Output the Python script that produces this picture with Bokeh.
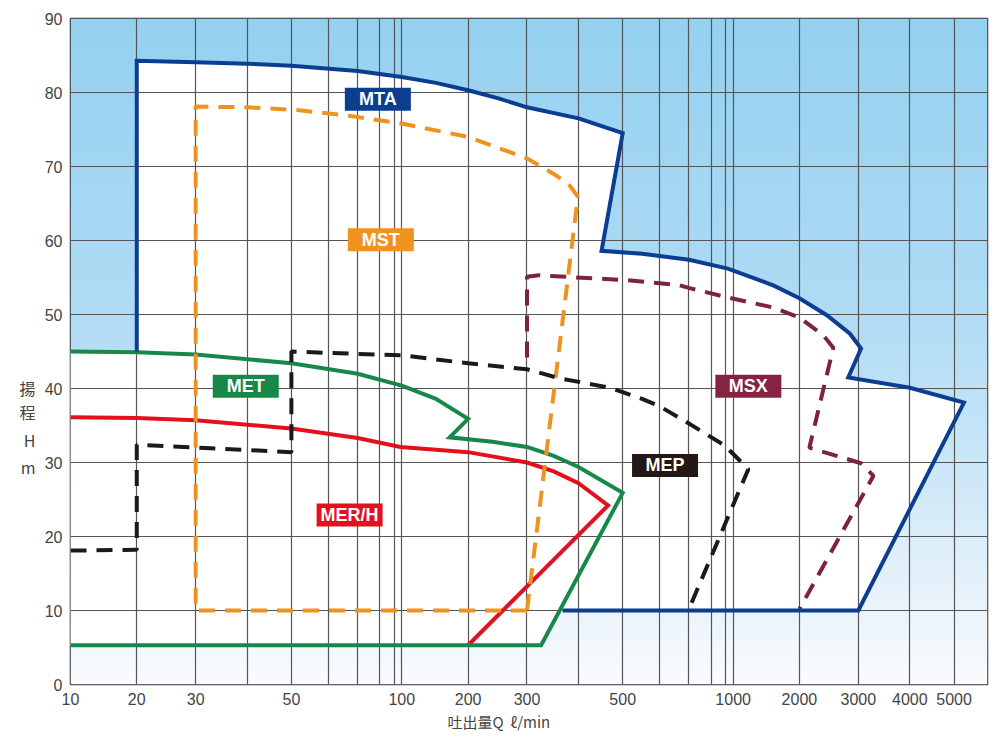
import numpy as np
from bokeh.plotting import figure
from bokeh.models import ColumnDataSource, FixedTicker, Range1d, LinearAxis, Title
from bokeh.embed import file_html
from bokeh.resources import INLINE
from bokeh.core.properties import value

# ---------------- data ----------------
x_tick_values = [10, 20, 30, 50, 100, 200, 300, 500, 1000, 2000, 3000, 4000, 5000]
x_grid_values = [10, 20, 30, 40, 50, 60, 70, 80, 90,
                 100, 200, 300, 400, 500, 600, 700, 800, 900,
                 1000, 2000, 3000, 4000, 5000]
y_tick_values = [0, 10, 20, 30, 40, 50, 60, 70, 80, 90]

mta_q = [20, 20, 30, 40, 50, 70, 100, 150, 200, 250, 300, 400, 500, 450, 550, 700, 920,
         1250, 1600, 2000, 2450, 2850, 3050, 2820, 4000, 5250, 3000, 368]
mta_h = [45.0, 84.3, 84.1, 83.9, 83.6, 82.9, 82.1, 81.3, 80.3, 79.2, 78.0, 76.5, 74.5,
         58.6, 58.2, 57.4, 56.2, 55.1, 53.9, 52.2, 49.9, 47.4, 45.4, 41.5, 40.1, 38.1,
         10.0, 10.0]

met_q = [10, 20, 30, 50, 70, 100, 150, 200, 171, 240, 300, 350, 400, 500, 326, 10]
met_h = [45.0, 44.9, 44.6, 43.4, 42.0, 40.4, 38.6, 35.9, 33.4, 32.8, 32.1, 30.9, 29.4,
         25.9, 5.3, 5.3]

mer_q = [10, 20, 30, 50, 70, 97, 200, 300, 350, 400, 465, 200]
mer_h = [36.1, 36.0, 35.7, 34.6, 33.3, 32.1, 31.4, 30.0, 28.8, 27.2, 24.2, 5.3]

mst_q = [300, 30, 30, 40, 52, 66, 100, 200, 300, 350, 380, 400, 395, 300]
mst_h = [10.0, 10.0, 78.1, 78.0, 77.6, 76.9, 75.8, 74.0, 71.1, 69.0, 67.6, 65.8, 64.0, 10.0]

mep_q = [10, 20, 20, 50, 50, 60, 100, 200, 300, 360, 470, 550, 600, 680, 890, 1220, 700]
mep_h = [18.1, 18.2, 32.4, 31.4, 45.0, 44.8, 44.5, 43.4, 42.6, 41.4, 40.1, 38.6,
         37.6, 35.7, 32.3, 29.1, 10.2]

msx_q = [300, 300, 322, 520, 660, 710, 920, 1610, 2000, 2390, 2560, 2160, 3050, 3280, 2000]
msx_h = [44.2, 55.1, 55.3, 54.6, 54.0, 53.5, 52.3, 50.9, 49.6, 47.2, 45.5, 32.0,
         29.9, 28.2, 10.2]

series_names = ["MTA", "MST", "MET", "MER/H", "MSX", "MEP"]
label_q = [79, 80.6, 39.7, 67, 1220, 617]
label_h = [79.1, 60.1, 40.3, 22.9, 40.3, 29.6]
series_colors = ["#0b3d91", "#f0921e", "#17884a", "#e3111d", "#862342", "#231815"]

y_label_chars = ["揚", "程", "H", "m"]
y_label_h = [40.1, 36.8, 33.1, 29.4]

x_label = "吐出量Q\u00a0\u00a0ℓ/min"


# The chart's flow axis: each decade is divided with a quadratic spacing
def qpos(q):
    q = np.asarray(q, dtype=float)
    e = np.floor(np.log10(q) + 1e-9)
    m = q / 10 ** e
    return np.round((e - 1) + (m - 1) * (20 - m) / 90, 6)


x_end = float(qpos(5900))

p = figure(width=992, height=732, x_range=Range1d(0, x_end), y_range=Range1d(0, 90),
           output_backend="svg", toolbar_location=None,
           min_border_left=70, min_border_right=5, min_border_top=18, min_border_bottom=40)

# background gradient
n = 300
ys = np.linspace(0, 90, n)
stops_y = [0, 12, 30, 50, 90]
stops_rgb = np.array([[250, 252, 254], [232, 243, 251], [203, 231, 248],
                      [176, 220, 245], [148, 209, 241]], dtype=float)
img = np.empty((n, 1), dtype=np.uint32)
view = img.view(dtype=np.uint8).reshape((n, 1, 4))
for c in range(3):
    view[:, 0, c] = np.interp(ys, stops_y, stops_rgb[:, c]).astype(np.uint8)
view[:, 0, 3] = 255
p.image_rgba(image=[img], x=0, y=0, dw=x_end, dh=90, level="image")

# white fills of the regions
p.patch(x=qpos(mta_q), y=mta_h, fill_color="white", line_color=None, level="image")
p.patch(x=qpos(met_q), y=met_h, fill_color="white", line_color=None, level="image")

# grid
p.xgrid.ticker = FixedTicker(ticks=[float(v) for v in qpos(x_grid_values)])
p.ygrid.ticker = FixedTicker(ticks=y_tick_values)
p.grid.grid_line_color = "#555555"
p.grid.grid_line_width = 1.2
p.grid.grid_line_alpha = 1.0

lw = 4
p.line(x=qpos(mer_q), y=mer_h, line_color="#e3111d", line_width=lw, line_join="miter")
p.line(x=qpos(met_q), y=met_h, line_color="#17884a", line_width=lw, line_join="miter")
p.line(x=qpos(mst_q), y=mst_h, line_color="#f0921e", line_width=lw, line_dash="16 10")
p.line(x=qpos(mep_q), y=mep_h, line_color="#1a1a1a", line_width=lw, line_dash="16 10")
p.line(x=qpos(msx_q), y=msx_h, line_color="#7d2242", line_width=lw, line_dash="16 10")
p.line(x=qpos(mta_q), y=mta_h, line_color="#0b3d91", line_width=lw, line_join="miter")

# series labels
lab = ColumnDataSource(dict(x=qpos(label_q), y=label_h, t=series_names, c=series_colors))
p.rect(x="x", y="y", width=66, height=23, width_units="screen", height_units="screen",
       fill_color="c", line_color=None, source=lab)
p.text(x="x", y="y", text="t", text_color="white", text_font=value("Liberation Sans"),
       text_font_style="bold", text_font_size="18px", text_align="center",
       text_baseline="middle", source=lab)

# axes
p.xaxis.ticker = FixedTicker(ticks=[float(v) for v in qpos(x_tick_values)])
p.xaxis.major_label_overrides = {float(k): str(v) for k, v in zip(qpos(x_tick_values), x_tick_values)}
p.yaxis.ticker = FixedTicker(ticks=y_tick_values)

# vertical axis title, one character per line, as labels of an outer left axis
title_axis = LinearAxis(ticker=FixedTicker(ticks=y_label_h),
                        major_label_overrides={h: ch for h, ch in zip(y_label_h, y_label_chars)})
p.add_layout(title_axis, "left")

for ax in (p.xaxis[0], p.yaxis[0], title_axis):
    ax.axis_line_color = None
    ax.major_tick_line_color = None
    ax.minor_tick_line_color = None
    ax.major_tick_out = 0
    ax.major_tick_in = 0
    ax.major_label_standoff = 8
    ax.major_label_text_font = "Liberation Sans"
    ax.major_label_text_font_size = "16px"
    ax.major_label_text_color = "#444444"

title_axis.major_label_text_font = "Noto Sans CJK JP"
title_axis.major_label_standoff = 6
title_axis.major_label_text_align = "center"

# x axis title, placed left of centre as in the original
p.add_layout(Title(text=x_label, align="left", offset=377, standoff=2,
                   text_font="Noto Sans CJK JP", text_font_style="normal",
                   text_font_size="15px", text_color="#444444"), "below")

p.outline_line_color = "#333333"
p.outline_line_width = 1.5
p.background_fill_color = "white"
p.border_fill_color = "white"

open("out.html", "w").write(file_html(p, INLINE))
